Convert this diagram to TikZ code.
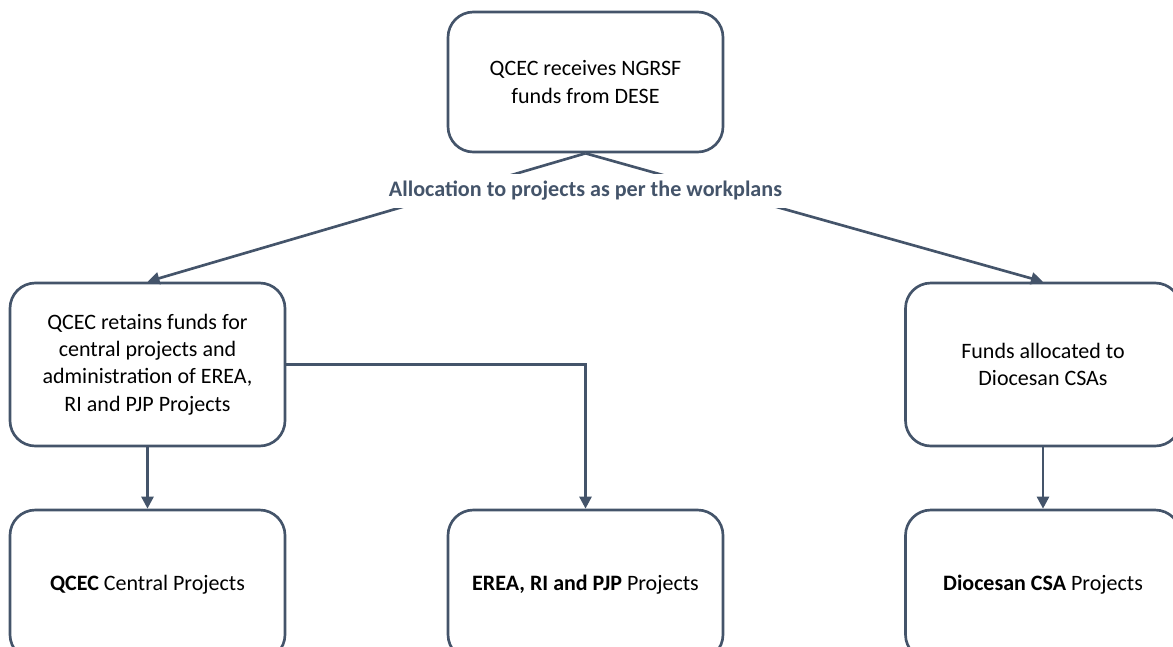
\documentclass[tikz,border=0pt]{standalone}
\usepackage{fontspec}
\setmainfont{Carlito}
\usepackage{tikz}
\usetikzlibrary{arrows.meta}
\usepackage{xcolor}
\definecolor{slate}{HTML}{44546A}

\tikzset{
  fundbox/.style={draw=slate, line width=2pt, rounded corners=19pt, minimum width=206.25pt, align=center, inner sep=4pt, font=\fontsize{16.5}{20.5}\selectfont},
  flow/.style={draw=slate, line width=2pt, -{Triangle[length=9pt,width=9pt]}},
}

\begin{document}
\begin{tikzpicture}[x=0.75pt,y=0.75pt,yscale=-1,xscale=1]
%set diagram to 1173 x 646
\useasboundingbox (0,0) rectangle (1173,646);
\clip (0,0) rectangle (1173,646);

%Shape: Rounded Rect [id:recv]
\node [fundbox, minimum height=105pt] (recv) at (585.5,82) {QCEC receives NGRSF\\funds from DESE};
%Shape: Rounded Rect [id:retain]
\node [fundbox, minimum height=122.25pt] (retain) at (147.5,364.5) {QCEC retains funds for\\central projects and\\administration of EREA,\\RI and PJP Projects};
%Shape: Rounded Rect [id:csa]
\node [fundbox, minimum height=122.25pt] (csa) at (1043,364.5) {Funds allocated to\\Diocesan CSAs};
%Shape: Rounded Rect [id:central]
\node [fundbox, minimum height=112.5pt] (central) at (147.5,585) {\textbf{QCEC} Central Projects};
%Shape: Rounded Rect [id:erea]
\node [fundbox, minimum height=112.5pt] (erea) at (585.5,585) {\textbf{EREA, RI and PJP} Projects};
%Shape: Rounded Rect [id:dioc]
\node [fundbox, minimum height=112.5pt] (dioc) at (1043,585) {\textbf{Diocesan CSA} Projects};

%Straight Lines
\draw [flow] (recv.south) -- (retain.north);
\draw [flow] (recv.south) -- (csa.north);
\draw [flow] (retain.east) -| (erea.north);
\draw [flow] (retain.south) -- (central.north);
\draw [flow] (csa.south) -- (dioc.north);

% Text Node
\node [fill=white, text=slate, inner xsep=6pt, inner ysep=0pt, minimum height=25.5pt, font=\fontsize{16.6}{19}\selectfont\bfseries] (alloc) at (585.5,191) {Allocation to projects as per the workplans};

\end{tikzpicture}
\end{document}
